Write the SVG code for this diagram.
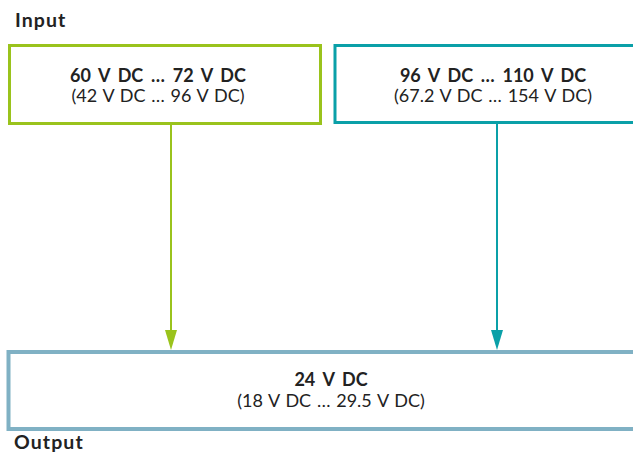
<svg xmlns="http://www.w3.org/2000/svg" width="633" height="461" viewBox="0 0 633 461">
<defs>
<style>
text{font-family:"Lato","Open Sans","Liberation Sans",sans-serif;fill:#222;}
.h{font-size:19.5px;font-weight:700;letter-spacing:1.1px;}
.b{font-size:18px;font-weight:700;text-anchor:middle;word-spacing:3.4px;}
.n{font-size:18px;text-anchor:middle;word-spacing:1.2px;}
.box{fill:#fff;}
</style>
</defs>
<rect width="633" height="461" fill="#fff"/>
<text class="h" x="15" y="27">Input</text>
<text class="h" x="14" y="449">Output</text>
<g id="conn">
<line x1="171" y1="124" x2="171" y2="330" stroke="#9ac31c" stroke-width="2"/>
<path d="M165,330 L177,330 L171,350 Z" fill="#9ac31c"/>
<line x1="497" y1="124" x2="497" y2="330" stroke="#0aa0a8" stroke-width="2"/>
<path d="M491,330 L503,330 L497,350 Z" fill="#0aa0a8"/>
</g>
<g id="in1">
<rect class="box" x="9.5" y="45.5" width="311" height="78" stroke="#9ac31c" stroke-width="3"/>
<text class="b" x="158" y="81.5">60 V DC … 72 V DC</text>
<text class="n" x="158" y="101.5">(42 V DC … 96 V DC)</text>
</g>
<g id="in2">
<rect class="box" x="335" y="45.5" width="310" height="77" stroke="#0aa0a8" stroke-width="3"/>
<text class="b" x="493" y="81.5">96 V DC … 110 V DC</text>
<text class="n" x="493" y="101.5">(67.2 V DC … 154 V DC)</text>
</g>
<g id="out">
<rect class="box" x="8.5" y="352" width="640" height="77" stroke="#80b1c4" stroke-width="4"/>
<text class="b" x="331" y="386">24 V DC</text>
<text class="n" x="331" y="406.5">(18 V DC … 29.5 V DC)</text>
</g>
</svg>
